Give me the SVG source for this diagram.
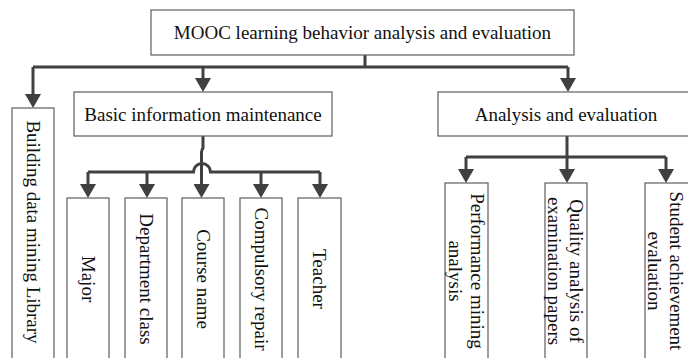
<svg xmlns="http://www.w3.org/2000/svg" width="688" height="358" viewBox="0 0 688 358">
<style>
.box{fill:#fff;stroke:#5e5e5e;stroke-width:1.2}
.t{font-family:"Liberation Serif","Times New Roman",serif;font-size:19px;fill:#111;text-anchor:middle}
.v{font-family:"Liberation Serif","Times New Roman",serif;font-size:19px;fill:#111;text-anchor:middle;dominant-baseline:central}
.c{fill:none;stroke:#404040;stroke-width:3}
.a{fill:none;stroke:#404040;stroke-width:3;marker-end:url(#ah)}
</style>
<defs>
<marker id="ah" viewBox="0 0 14 16" refX="1" refY="8" markerWidth="14" markerHeight="16" markerUnits="userSpaceOnUse" orient="auto">
<path d="M0,0 L14,8 L0,16 z" fill="#404040"/>
</marker>
</defs>
<rect width="688" height="358" fill="#fff"/>
<g id="connectors">
<path class="c" d="M365,55 V67 M33,67 H568"/>
<path class="a" d="M33,67 V95"/>
<path class="a" d="M203,67 V79"/>
<path class="a" d="M568,67 V79"/>
<path class="c" d="M203,136 V148 L201.5,151"/>
<path class="a" d="M201.5,151 V185"/>
<path class="c" d="M88,172 H193.5 A8.5,8.5 0 0 1 210.5,172 H320"/>
<path class="a" d="M88,172 V185"/>
<path class="a" d="M147,172 V185"/>
<path class="a" d="M261,172 V185"/>
<path class="a" d="M320,172 V185"/>
<path class="c" d="M567,136 V157 M466,157 H666"/>
<path class="a" d="M466,157 V170"/>
<path class="a" d="M567,157 V170"/>
<path class="a" d="M666,157 V170"/>
</g>
<g id="root"><rect class="box" x="151" y="10" width="423" height="45"/><text class="t" x="362.5" y="39">MOOC learning behavior analysis and evaluation</text></g>
<g id="building"><rect class="box" x="12" y="108" width="42" height="270"/><text class="v" transform="translate(33,232) rotate(90)">Building data mining Library</text></g>
<g id="basic"><rect class="box" x="74" y="92" width="258" height="44"/><text class="t" x="203" y="121">Basic information maintenance</text></g>
<g id="analysis"><rect class="box" x="438" y="92" width="270" height="44"/><text class="t" x="566" y="121">Analysis and evaluation</text></g>
<g id="major"><rect class="box" x="67" y="198" width="42" height="180"/><text class="v" transform="translate(88,279) rotate(90)">Major</text></g>
<g id="department"><rect class="box" x="125" y="198" width="42" height="180"/><text class="v" transform="translate(146,279) rotate(90)">Department class</text></g>
<g id="course"><rect class="box" x="182" y="198" width="42" height="180"/><text class="v" transform="translate(203,279) rotate(90)">Course name</text></g>
<g id="compulsory"><rect class="box" x="240" y="198" width="42" height="180"/><text class="v" transform="translate(261,279) rotate(90)">Compulsory repair</text></g>
<g id="teacher"><rect class="box" x="298" y="198" width="43" height="180"/><text class="v" transform="translate(319.5,279) rotate(90)">Teacher</text></g>
<g id="performance"><rect class="box" x="445" y="183" width="43" height="195"/><text class="v" transform="translate(466.5,271) rotate(90)"><tspan x="0" y="-11">Performance mining</tspan><tspan x="0" y="11">analysis</tspan></text></g>
<g id="quality"><rect class="box" x="545" y="183" width="42" height="195"/><text class="v" transform="translate(566,271) rotate(90)"><tspan x="0" y="-11">Quality analysis of</tspan><tspan x="0" y="11">examination papers</tspan></text></g>
<g id="student"><rect class="box" x="645" y="183" width="60" height="195"/><text class="v" transform="translate(666,271) rotate(90)"><tspan x="0" y="-11">Student achievement</tspan><tspan x="0" y="11">evaluation</tspan></text></g>
</svg>
